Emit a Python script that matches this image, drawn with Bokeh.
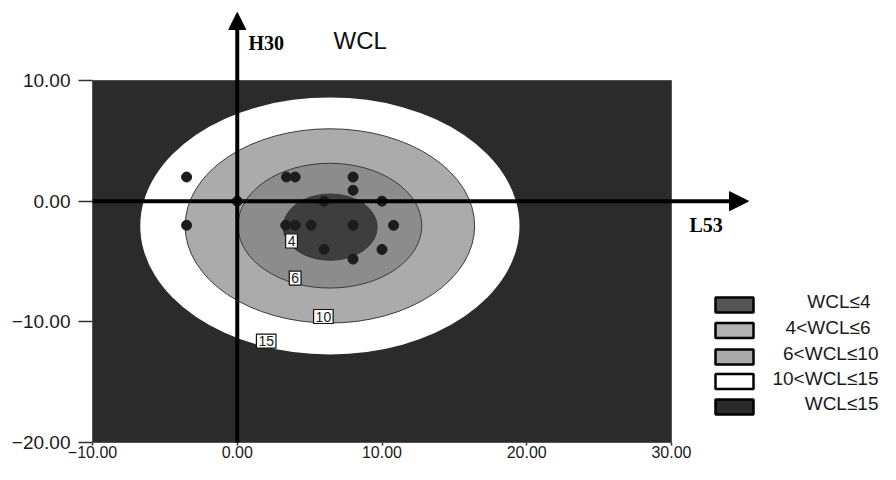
from bokeh.plotting import figure
from bokeh.models import Arrow, NormalHead, Label, FixedTicker, BoxAnnotation, Range1d
from bokeh.core.properties import value
from bokeh.embed import file_html
from bokeh.resources import INLINE

# ---------------- data ----------------
x_ticks = [-10, 0, 10, 20, 30]
x_tick_labels = ["\u221210.00", "0.00", "10.00", "20.00", "30.00"]
y_ticks = [-20, -10, 0, 10]
y_tick_labels = ["\u221220.00", "\u221210.00", "0.00", "10.00"]
x_min, x_max = -10, 30
y_min, y_max = -20, 10

# contour levels (outermost first): centre and semi-axes of each WCL contour
contour_levels = [15, 10, 6, 4]
contour_cx = [6.4, 6.4, 6.4, 6.42]
contour_cy = [-2.05, -2.05, -2.03, -2.15]
contour_hw = [13.1, 10.0, 6.35, 3.25]
contour_hh = [10.65, 8.05, 5.17, 2.75]

# contour label positions
clabel_text = ["4", "6", "10", "15"]
clabel_x = [3.75, 4.0, 5.95, 2.0]
clabel_y = [-3.3, -6.37, -9.56, -11.6]

# observed design points (L53, H30)
obs_x = [-3.5, -3.5, 3.4, 4.0, 8.0, 8.0, 0.0, 6.0, 10.0, 3.35, 4.0, 5.1, 8.0, 10.8, 6.0, 10.0, 8.0]
obs_y = [2.0, -2.0, 2.0, 2.0, 2.0, 0.9, 0.0, 0.0, 0.0, -2.0, -2.0, -2.0, -2.0, -2.0, -4.0, -4.0, -4.8]

legend_labels = ["WCL\u22644", "4<WCL\u22646", "6<WCL\u226410", "10<WCL\u226415", "WCL\u226415"]

# ---------------- styles ----------------
outer_color = "#2b2b2b"
ring_colors = ["#ffffff", "#ababab", "#8c8c8c", "#3e3e3e"]   # inside 15, 10, 6, 4
legend_colors = ["#555555", "#b2b2b2", "#aaaaaa", "#ffffff", "#2b2b2b"]
SANS = "Liberation Sans"
SERIF = "Liberation Serif"

# geometry: the frame covers the whole canvas; the plot box sits inside it
W, H = 880, 464
BOX_L, BOX_T, BOX_R, BOX_B = 92, 80, 671, 442      # canvas pixels of the plot box
sx = (x_max - x_min) / (BOX_R - BOX_L)
sy = (y_max - y_min) / (BOX_B - BOX_T)

def px_x(px):   # canvas pixel -> data x
    return x_min + (px - BOX_L) * sx

def px_y(py):   # canvas pixel -> data y
    return y_max - (py - BOX_T) * sy

p = figure(width=W, height=H,
           x_range=Range1d(px_x(0), px_x(W)), y_range=Range1d(px_y(H), px_y(0)),
           output_backend="svg", toolbar_location=None, min_border=0)
p.grid.visible = False
p.outline_line_color = None
p.background_fill_color = "white"
p.border_fill_color = "white"

# outer region (whole plot box)
p.quad(left=[x_min], right=[x_max], bottom=[y_min], top=[y_max],
       fill_color=outer_color, line_color="#555555", line_width=1)

# contour regions
for i in range(len(contour_levels)):
    p.ellipse(x=[contour_cx[i]], y=[contour_cy[i]],
              width=[2 * contour_hw[i]], height=[2 * contour_hh[i]],
              fill_color=ring_colors[i],
              line_color=None if i == 0 else "#3a3a3a", line_width=1)

# points
p.scatter(obs_x, obs_y, size=10, fill_color="#1c1c1c", line_color="#1c1c1c")

# axes with arrows
p.add_layout(Arrow(end=NormalHead(size=19, fill_color="black", line_color="black"),
                   x_start=x_min, y_start=0, x_end=px_x(748), y_end=0,
                   line_width=4, line_color="black"))
p.add_layout(Arrow(end=NormalHead(size=17, fill_color="black", line_color="black"),
                   x_start=0, y_start=y_min, x_end=0, y_end=px_y(12),
                   line_width=4, line_color="black"))

# contour labels
p.text(clabel_x, clabel_y, text=clabel_text, text_align="center", text_baseline="middle",
       text_font=value(SANS), text_font_size="14px", text_color="#1a1a1a",
       background_fill_color="white", border_line_color="#111111", border_line_width=1.2,
       padding=2)

# axis ticks (axes fixed on the plot box edges)
p.xaxis.fixed_location = y_min
p.xaxis.bounds = (x_min, x_max)
p.yaxis.fixed_location = x_min
p.yaxis.bounds = (y_min, y_max)
p.xaxis.ticker = FixedTicker(ticks=x_ticks)
p.xaxis.major_label_overrides = dict(zip(x_ticks, x_tick_labels))
p.yaxis.ticker = FixedTicker(ticks=y_ticks)
p.yaxis.major_label_overrides = dict(zip(y_ticks, y_tick_labels))
for ax in (p.xaxis, p.yaxis):
    ax.minor_tick_line_color = None
    ax.major_tick_in = 0
    ax.axis_line_color = "#555555"
    ax.major_tick_line_color = "#333333"
    ax.major_tick_line_width = 1.5
    ax.major_label_text_font = SANS
    ax.major_label_text_color = "#1a1a1a"
p.yaxis.major_label_text_font_size = "19px"
p.xaxis.major_label_text_font_size = "16px"
p.xaxis.major_tick_out = 3
p.xaxis.major_label_standoff = 0
p.yaxis.major_tick_out = 14
p.yaxis.major_label_standoff = 8

# axis names and title
p.add_layout(Label(x=px_x(248), y=px_y(53), text="H30", text_font=SERIF, text_font_style="bold",
                   text_font_size="20px", text_color="black"))
p.add_layout(Label(x=px_x(689), y=px_y(235), text="L53", text_font=SERIF, text_font_style="bold",
                   text_font_size="20px", text_color="black"))
p.add_layout(Label(x=px_x(333), y=px_y(53), text="WCL", text_font=SANS,
                   text_font_size="24px", text_color="#111111"))

# legend (drawn beside the plot box)
leg_centers = [304.5, 330, 356.5, 381, 406.5]
leg_text_right = [870, 870, 878, 878, 878]
for i, lab in enumerate(legend_labels):
    cy = leg_centers[i]
    p.add_layout(BoxAnnotation(left=px_x(715), right=px_x(753), top=px_y(cy - 7.5), bottom=px_y(cy + 7.5),
                               fill_color=legend_colors[i], fill_alpha=1,
                               line_color="black", line_width=2.5, line_alpha=1, level="overlay"))
    p.add_layout(Label(x=px_x(leg_text_right[i]), y=px_y(cy + 7), text=lab, text_font=SANS,
                       text_align="right", text_font_size="19px", text_color="#1a1a1a"))

open("out.html", "w").write(file_html(p, INLINE))
